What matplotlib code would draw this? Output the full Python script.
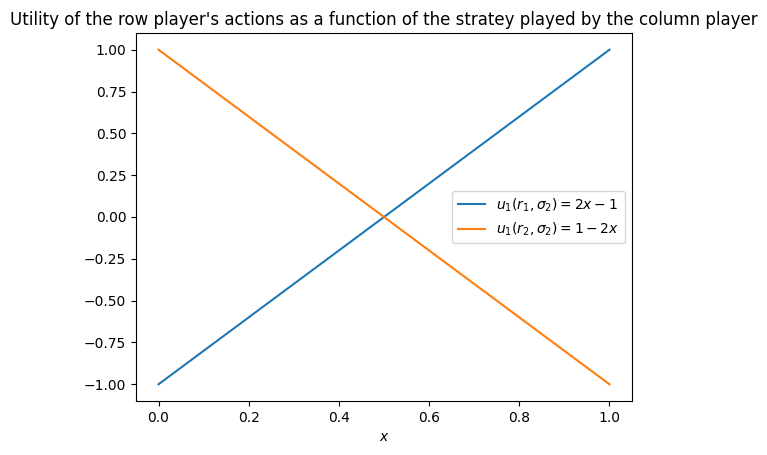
import numpy as np
import matplotlib.pyplot as plt

x = [0.0, 1.0]
u_r1 = [-1.0, 1.0]
u_r2 = [1.0, -1.0]

fig = plt.figure(figsize=(7.67, 4.55), dpi=100)
ax = fig.add_axes([136 / 767, 54 / 455, 496 / 767, 368 / 455])
ax.plot(x, u_r1, label=r'$u_1(r_1, \sigma_2) = 2x - 1$')
ax.plot(x, u_r2, label=r'$u_1(r_2, \sigma_2) = 1 - 2x$')
ax.set_xlabel(r'$x$')
ax.set_title("Utility of the row player's actions as a function of the stratey played by the column player")
ax.legend()
fig.savefig('out.png', dpi=100)
